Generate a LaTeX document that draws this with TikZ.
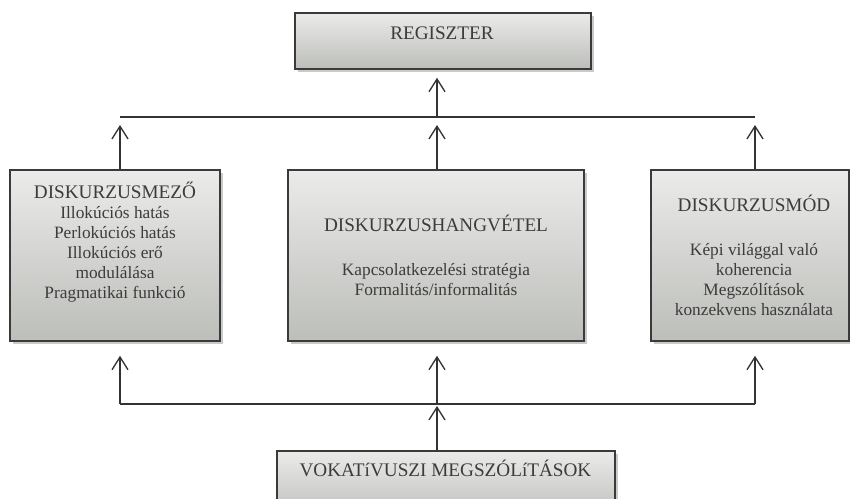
\documentclass[tikz,border=0pt]{standalone}
\usepackage{fontspec}
\setmainfont{Liberation Serif}
\usetikzlibrary{arrows.meta,shadows}
\definecolor{txtc}{HTML}{3C3C3C}
\definecolor{boxline}{HTML}{3A3A3A}
\definecolor{boxtop}{HTML}{EBEBE9}
\definecolor{boxbot}{HTML}{BCBEBA}
\definecolor{linec}{HTML}{333333}
\newcommand{\tf}{\fontsize{14.4}{15}\selectfont}
\begin{document}
\begin{tikzpicture}[x=0.75pt,y=-0.75pt,
  box/.style={draw=boxline, line width=1.2pt, top color=boxtop, bottom color=boxbot,
    inner sep=0pt, drop shadow={shadow xshift=2pt, shadow yshift=-2pt, opacity=0.35, fill=black!60}},
  txtn/.style={text=txtc, align=center, inner sep=0pt, font=\fontsize{13}{15}\selectfont},
  ln/.style={draw=linec, line width=1pt},
  arr/.style={draw=linec, line width=1pt, -{Straight Barb[length=9.5pt,width=12pt]}}]
\useasboundingbox (0,0) rectangle (850,499);
% boxes
\node[box, minimum width=222pt, minimum height=42pt] (reg) at (443,41) {};
\node[box, minimum width=157.5pt, minimum height=128.25pt] (dm) at (115,255.5) {};
\node[box, minimum width=222pt, minimum height=128.25pt] (dh) at (436,255.5) {};
\node[box, minimum width=148.5pt, minimum height=128.25pt] (dmod) at (750,255.5) {};
\node[box, minimum width=253.5pt, minimum height=51.75pt] (vok) at (446,485.5) {};
% texts
\node[txtn, anchor=base] (regt) at (442,39.4) {\tf REGISZTER};
\node[txtn, anchor=north] (dmt) at (115,179.3) {\rule{0pt}{14pt}{\tf DISKURZUSMEZŐ}\\Illokúciós hatás\\Perlokúciós hatás\\Illokúciós erő\\modulálása\\Pragmatikai funkció};
\node[txtn, anchor=north] (dht) at (436,212.7) {\rule{0pt}{14pt}{\tf DISKURZUSHANGVÉTEL}\\[18pt]Kapcsolatkezelési stratégia\\Formalitás/informalitás};
\node[txtn, anchor=north] (dmodt) at (754,192.7) {\rule{0pt}{14pt}{\tf DISKURZUSMÓD}\\[18pt]Képi világgal való\\koherencia\\Megszólítások\\konzekvens használata};
\node[txtn, anchor=base] (vokt) at (445.5,476.4) {\tf VOKATíVUSZI MEGSZÓLíTÁSOK};
% connector points
\coordinate (tl) at (120,117);
\coordinate (tc) at (437,117);
\coordinate (tr) at (755,117);
\coordinate (bl) at (120,404);
\coordinate (bc) at (437,404);
\coordinate (br) at (755,404);
\draw[ln] (tl) -- (tr);
\draw[ln] (bl) -- (br);
\draw[arr, shorten >=6pt] (dm.north -| tl) -- (tl);
\draw[arr, shorten >=6pt] (dh.north -| tc) -- (tc);
\draw[arr, shorten >=6pt] (dmod.north -| tr) -- (tr);
\draw[arr, shorten >=6pt] (tc) -- (reg.south -| tc);
\draw[arr, shorten >=10.5pt] (bl) -- (dm.south -| bl);
\draw[arr, shorten >=10.5pt] (bc) -- (dh.south -| bc);
\draw[arr, shorten >=10.5pt] (br) -- (dmod.south -| br);
\draw[arr, shorten >=1.5pt] (vok.north -| bc) -- (bc);
\end{tikzpicture}
\end{document}
